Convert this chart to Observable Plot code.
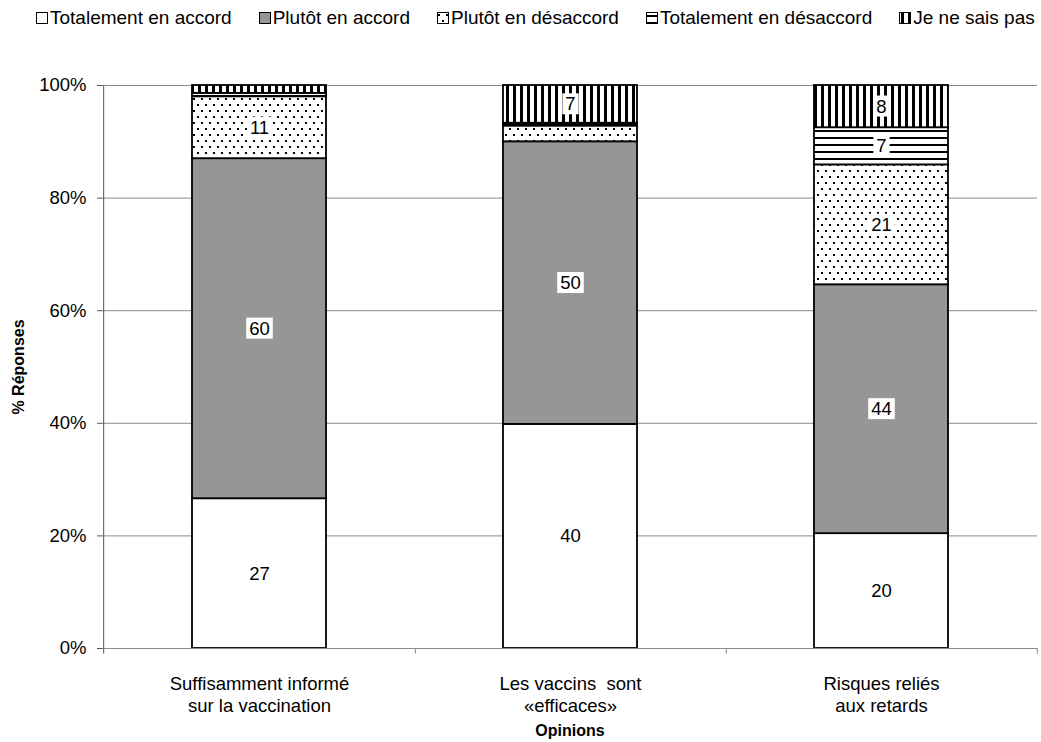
<!DOCTYPE html>
<html><head><meta charset="utf-8">
<script src="https://cdn.jsdelivr.net/npm/d3@7"></script>
<script src="https://cdn.jsdelivr.net/npm/@observablehq/plot@0.6"></script>
<style>
body{margin:0;background:#fff;font-family:"Liberation Sans",Arial,sans-serif;color:#000;}
#legend{height:36px;display:flex;align-items:center;padding-left:36px;gap:27px;font-size:19px;}
.item{display:flex;align-items:center;white-space:nowrap;}
.item svg{margin-right:2px;}
</style></head><body>
<svg width="0" height="0" style="position:absolute">
<defs>
<pattern id="pdots" patternUnits="userSpaceOnUse" width="8" height="12">
<rect width="8" height="12" fill="#fff"/>
<rect x="1" y="2" width="2" height="2" fill="#000"/>
<rect x="5" y="8" width="2" height="2" fill="#000"/>
</pattern>
<pattern id="phstripes" patternUnits="userSpaceOnUse" width="8" height="7">
<rect width="8" height="7" fill="#fff"/>
<rect y="3" width="8" height="2" fill="#000"/>
</pattern>
<pattern id="pvstripes" patternUnits="userSpaceOnUse" width="7" height="8">
<rect width="7" height="8" fill="#fff"/>
<rect x="2" width="3" height="8" fill="#000"/>
</pattern>
</defs></svg>
<div id="legend"></div>
<div id="chart"></div>
<script>
// ---- data ----
const categories = ["Suffisamment informé\nsur la vaccination", "Les vaccins  sont\n«efficaces»", "Risques reliés\naux retards"];
const answers = ["Totalement en accord", "Plutôt en accord", "Plutôt en désaccord", "Totalement en désaccord", "Je ne sais pas"];
const totalementEnAccord    = [26.6, 39.8, 20.4];
const plutotEnAccord        = [60.4, 50.2, 44.2];
const plutotEnDesaccord     = [11.0,  2.8, 21.3];
const totalementEnDesaccord = [ 0.6,  0.5,  6.6];
const jeNeSaisPas           = [ 1.4,  6.7,  7.5];
const yTicks = [0, 20, 40, 60, 80, 100];
const fills = ["#ffffff", "#969696", "url(#pdots)", "url(#phstripes)", "url(#pvstripes)"];

const series = [totalementEnAccord, plutotEnAccord, plutotEnDesaccord, totalementEnDesaccord, jeNeSaisPas];
const data = [];
categories.forEach((c, i) => {
  answers.forEach((a, j) => data.push({cat: c, answer: a, value: series[j][i]}));
});

// ---- legend ----
const legend = document.getElementById("legend");
answers.forEach((a, j) => {
  const it = document.createElement("div");
  it.className = "item";
  it.innerHTML = `<svg width="12" height="12"><rect x="0.5" y="0.5" width="11" height="11" fill="${fills[j]}" stroke="#000" stroke-width="1"/></svg><span>${a}</span>`;
  legend.appendChild(it);
});

// ---- chart ----
const W = 1041, H = 706;
const mL = 102, mR = 4;
const bw = (W - mL - mR) / categories.length;

const chart = Plot.plot({
  width: W, height: H,
  marginTop: 49, marginBottom: 94, marginLeft: mL, marginRight: mR,
  style: {fontFamily: "Liberation Sans, Arial, sans-serif", fontSize: "18.5px", color: "#000", background: "#fff"},
  x: {domain: categories, paddingInner: 0.57, paddingOuter: 0.285, label: null},
  y: {domain: [0, 100], label: null},
  color: {domain: answers, range: fills, type: "ordinal"},
  marks: [
    Plot.gridY(yTicks, {stroke: "#8a8a8a", strokeOpacity: 1}),
    Plot.barY(data, {x: "cat", y: "value", fill: "answer", stroke: "#000", strokeWidth: 1.8}),
    Plot.text(data, Plot.stackY({x: "cat", y: "value", text: d => d.value >= 5 ? String(Math.round(d.value)) : null, ariaDescription: "value-labels", fontSize: 18.5, fill: "#000"})),
    Plot.ruleY([0], {stroke: "#8a8a8a"}),
    Plot.ruleX([categories[0]], {y1: -1, y2: 100, dx: -bw / 2, stroke: "#555"}),
    Plot.ruleX(categories, {y1: -1, y2: 0, dx: bw / 2, stroke: "#8a8a8a"}),
    Plot.axisY({ticks: yTicks, tickFormat: d => d + "%", tickSize: 5, tickPadding: 11, stroke: "#555", label: null, fontSize: 18.5}),
    Plot.axisX({tickSize: 0, tickPadding: 26, lineHeight: 1.2, label: null, fontSize: 18.5}),
    Plot.text(["% Réponses"], {frameAnchor: "left", textAnchor: "middle", rotate: -90, dx: -84, fontWeight: "bold", fontSize: 16}),
    Plot.text(["Opinions"], {frameAnchor: "bottom", textAnchor: "middle", dy: 87, fontWeight: "bold", fontSize: 16})
  ]
});
document.getElementById("chart").appendChild(chart);

// white boxes behind the value labels
const g = chart.querySelector('g[aria-description="value-labels"]');
if (g) {
  g.querySelectorAll("text").forEach(t => {
    const b = t.getBBox();
    const r = document.createElementNS("http://www.w3.org/2000/svg", "rect");
    r.setAttribute("x", b.x - 3);
    r.setAttribute("y", b.y);
    r.setAttribute("width", b.width + 6);
    r.setAttribute("height", b.height);
    r.setAttribute("fill", "#fff");
    if (t.getAttribute("transform")) r.setAttribute("transform", t.getAttribute("transform"));
    t.parentNode.insertBefore(r, t);
  });
}
</script>
</body></html>
